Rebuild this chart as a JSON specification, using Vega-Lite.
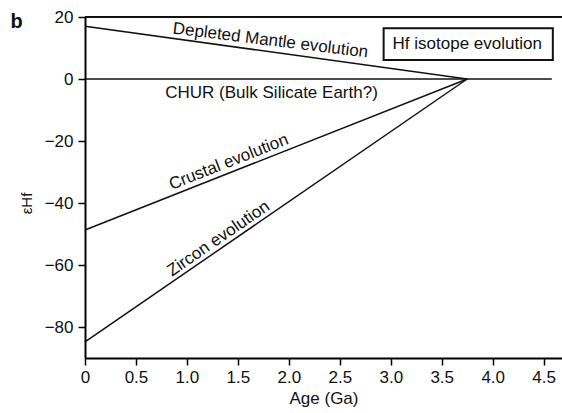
{
  "$schema": "https://vega.github.io/schema/vega-lite/v6.json",
  "width": 477,
  "height": 341,
  "autosize": {"type": "none"},
  "padding": {"left": 85, "top": 17, "right": 0, "bottom": 55},
  "background": "white",
  "config": {
    "font": "Liberation Sans",
    "view": {"stroke": null},
    "axis": {
      "domainColor": "#000", "domainWidth": 2,
      "tickColor": "#000", "tickWidth": 1.5, "tickSize": 7,
      "labelColor": "#111", "labelFontSize": 17, "labelFont": "Liberation Sans",
      "titleColor": "#111", "titleFontSize": 17, "titleFontWeight": "normal", "titleFont": "Liberation Sans",
      "grid": false, "labelFlush": false
    }
  },
  "datasets": {
    "lines": [
      {"series": "Depleted Mantle", "age": 0, "eps": 17},
      {"series": "Depleted Mantle", "age": 3.75, "eps": 0},
      {"series": "CHUR", "age": 0, "eps": 0},
      {"series": "CHUR", "age": 4.58, "eps": 0},
      {"series": "Crustal", "age": 0, "eps": -48.7},
      {"series": "Crustal", "age": 3.75, "eps": 0},
      {"series": "Zircon", "age": 0, "eps": -84.8},
      {"series": "Zircon", "age": 3.75, "eps": 0}
    ],
    "labels": [
      {"key": "dm", "text": "Depleted Mantle evolution", "age": 1.82, "eps": 12.4},
      {"key": "chur", "text": "CHUR (Bulk Silicate Earth?)", "age": 1.83, "eps": -4.5},
      {"key": "crust", "text": "Crustal evolution", "age": 1.41, "eps": -26.8},
      {"key": "zircon", "text": "Zircon evolution", "age": 1.31, "eps": -51.5},
      {"key": "box", "text": "Hf isotope evolution", "age": 3.75, "eps": 11.3},
      {"key": "panel", "text": "b", "age": -0.67, "eps": 18.5}
    ],
    "box": [
      {"x1": 2.93, "x2": 4.59, "y1": 16.4, "y2": 6.1}
    ],
    "frame": [
      {"x1": 0, "x2": 4.68, "y": 20}
    ]
  },
  "layer": [
    {
      "data": {"name": "lines"},
      "mark": {"type": "line", "color": "#111", "strokeWidth": 1.5},
      "encoding": {
        "x": {"field": "age", "type": "quantitative",
              "scale": {"domain": [0, 4.68], "nice": false, "zero": false},
              "axis": {"values": [0, 0.5, 1, 1.5, 2, 2.5, 3, 3.5, 4, 4.5],
                       "labelExpr": "datum.value === 0 ? '0' : format(datum.value, '.1f')",
                       "labelPadding": 4, "title": "Age (Ga)", "titlePadding": 5}},
        "y": {"field": "eps", "type": "quantitative",
              "scale": {"domain": [-90, 20], "nice": false, "zero": false},
              "axis": {"values": [-80, -60, -40, -20, 0, 20], "labelPadding": 5,
                       "title": "εHf", "titleX": -59, "titleY": 186, "titleAngle": -90,
                       "titleAlign": "center", "titleBaseline": "middle", "titleFontSize": 15}},
        "detail": {"field": "series"}
      }
    },
    {
      "data": {"name": "frame"},
      "mark": {"type": "rule", "color": "#111", "strokeWidth": 2},
      "encoding": {
        "x": {"field": "x1", "type": "quantitative"},
        "x2": {"field": "x2"},
        "y": {"field": "y", "type": "quantitative"}
      }
    },
    {
      "data": {"name": "box"},
      "mark": {"type": "rect", "fill": "white", "stroke": "#111", "strokeWidth": 2},
      "encoding": {
        "x": {"field": "x1", "type": "quantitative"},
        "x2": {"field": "x2"},
        "y": {"field": "y1", "type": "quantitative"},
        "y2": {"field": "y2"}
      }
    },
    {
      "data": {"name": "labels"},
      "transform": [{"filter": "datum.key === 'dm'"}],
      "mark": {"type": "text", "fontSize": 17, "angle": 7, "align": "center", "baseline": "middle", "color": "#111"},
      "encoding": {
        "x": {"field": "age", "type": "quantitative"},
        "y": {"field": "eps", "type": "quantitative"},
        "text": {"field": "text"}
      }
    },
    {
      "data": {"name": "labels"},
      "transform": [{"filter": "datum.key === 'chur' || datum.key === 'box'"}],
      "mark": {"type": "text", "fontSize": 17, "align": "center", "baseline": "middle", "color": "#111"},
      "encoding": {
        "x": {"field": "age", "type": "quantitative"},
        "y": {"field": "eps", "type": "quantitative"},
        "text": {"field": "text"}
      }
    },
    {
      "data": {"name": "labels"},
      "transform": [{"filter": "datum.key === 'crust'"}],
      "mark": {"type": "text", "fontSize": 17, "angle": -21.5, "align": "center", "baseline": "middle", "color": "#111"},
      "encoding": {
        "x": {"field": "age", "type": "quantitative"},
        "y": {"field": "eps", "type": "quantitative"},
        "text": {"field": "text"}
      }
    },
    {
      "data": {"name": "labels"},
      "transform": [{"filter": "datum.key === 'zircon'"}],
      "mark": {"type": "text", "fontSize": 17, "angle": -34.5, "align": "center", "baseline": "middle", "color": "#111"},
      "encoding": {
        "x": {"field": "age", "type": "quantitative"},
        "y": {"field": "eps", "type": "quantitative"},
        "text": {"field": "text"}
      }
    },
    {
      "data": {"name": "labels"},
      "transform": [{"filter": "datum.key === 'panel'"}],
      "mark": {"type": "text", "fontSize": 20, "fontWeight": "bold", "align": "center", "baseline": "middle", "color": "#111"},
      "encoding": {
        "x": {"field": "age", "type": "quantitative"},
        "y": {"field": "eps", "type": "quantitative"},
        "text": {"field": "text"}
      }
    }
  ]
}
